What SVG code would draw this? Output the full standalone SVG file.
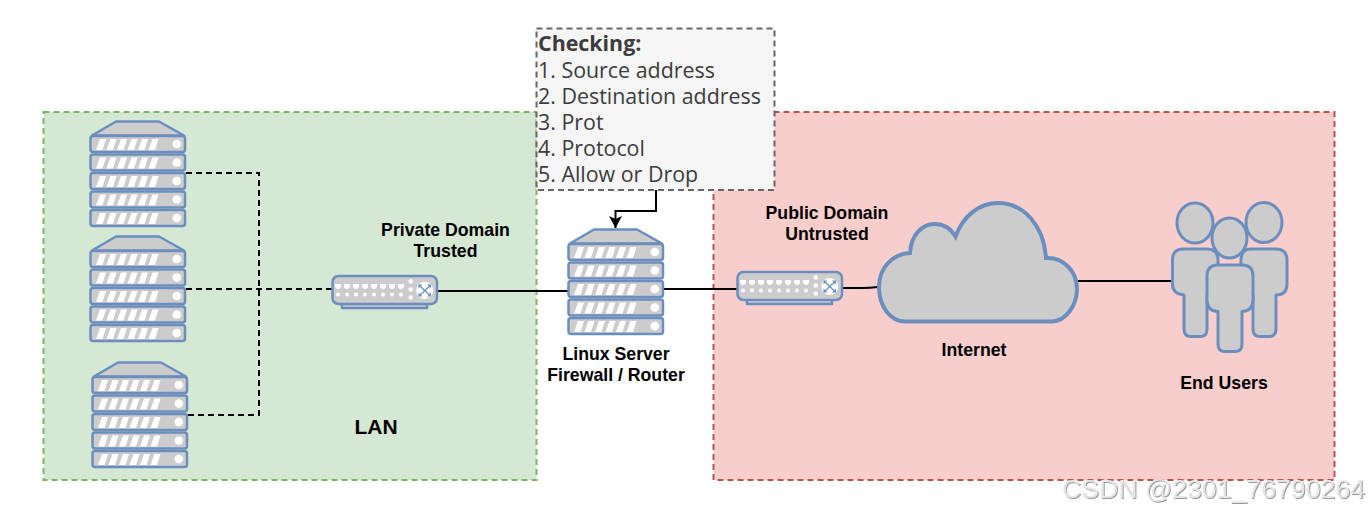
<svg xmlns="http://www.w3.org/2000/svg" xmlns:xlink="http://www.w3.org/1999/xlink" width="1370" height="512" viewBox="0 0 1370 512">
<style>
.s{fill:#cccccc;stroke:#6c8ebf;stroke-width:2.500;stroke-linejoin:round}
.t{stroke-width:3}
.w{fill:#ffffff;stroke:none}
.lb{font-family:"Liberation Sans",Arial,sans-serif;font-weight:700;font-size:17.700px;fill:#000;text-anchor:middle}
.ck{font-family:"Open Sans","Noto Sans",sans-serif;font-size:21.400px;fill:#3c3c3c}
.c{fill:none;stroke:#000;stroke-width:2}
.d{stroke-dasharray:6 4}
</style>
<defs>
<g id="row">
<rect class="s" x="90.500" y="0" width="94.500" height="16" rx="2.500"/>
<path class="w" d="M96 14L100 3H106L102.500 14ZM106.500 14L110.500 3H116.500L113 14ZM117 14L121 3H127L123.500 14ZM127.500 14L131.500 3H137.500L134 14ZM138 14L142 3H148L144.500 14ZM148.500 14L152.500 3H158.500L155 14Z"/>
<circle class="w" cx="176.800" cy="8" r="4.300"/>
</g>
<g id="server">
<path class="s" d="M116 121.500H159L184 135.500H92Z"/>
<use href="#row" y="136"/><use href="#row" y="154.500"/><use href="#row" y="173"/><use href="#row" y="191.500"/><use href="#row" y="210"/>
</g>
<g id="switch">
<rect class="s" x="342" y="300" width="85" height="8"/>
<rect class="s" x="332.500" y="276" width="104.500" height="28" rx="6"/>
<g class="w">
<path d="M335 284h6v3l-2 2h-2l-2-2zM344 284h6v3l-2 2h-2l-2-2zM353 284h6v3l-2 2h-2l-2-2zM362 284h6v3l-2 2h-2l-2-2zM371 284h6v3l-2 2h-2l-2-2zM380 284h6v3l-2 2h-2l-2-2zM389 284h6v3l-2 2h-2l-2-2zM398 284h6v3l-2 2h-2l-2-2z"/>
<circle cx="338" cy="294.500" r="2"/><circle cx="347" cy="294.500" r="2"/><circle cx="356" cy="294.500" r="2"/><circle cx="365" cy="294.500" r="2"/><circle cx="374" cy="294.500" r="2"/><circle cx="383" cy="294.500" r="2"/><circle cx="392" cy="294.500" r="2"/><circle cx="401" cy="294.500" r="2"/>
<circle cx="410.700" cy="281.500" r="2.200"/><circle cx="410.700" cy="289.500" r="2.200"/><circle cx="410.700" cy="297.500" r="2.200"/>
<circle cx="424.700" cy="290.500" r="8.500"/>
</g>
<path d="M420 286L429.500 295M429.500 286L420 295" fill="none" stroke="#6c8ebf" stroke-width="1.300"/>
<path d="M418.500 284.500h4l-4 4zM431 284.500h-4l4 4zM418.500 296.500h4l-4-4zM431 296.500h-4l4-4z" fill="#6c8ebf"/>
</g>
<marker id="arr" markerWidth="14" markerHeight="14" refX="12" refY="6.500" orient="auto" markerUnits="userSpaceOnUse"><path d="M0 0L12 6.500L0 13L3 6.500Z" fill="#000"/></marker>
<filter id="sh" x="-5%" y="-20%" width="110%" height="150%"><feDropShadow dx="1" dy="1" stdDeviation="0.600" flood-color="#999999"/></filter>
</defs>

<g id="lan"><rect x="43.500" y="112" width="493" height="368" fill="#d5e8d4" stroke="#82b366" stroke-width="2" stroke-dasharray="6 4"/></g>
<g id="wan"><rect x="713.500" y="112" width="621" height="368" fill="#f8cecc" stroke="#b85450" stroke-width="2" stroke-dasharray="6 4"/></g>

<g id="connectors">
<path class="c d" d="M186 173H259V415H188"/>
<path class="c d" d="M186 289H332"/>
<path class="c" d="M437 291H568"/>
<path class="c" d="M664 289H737"/>
<path class="c" d="M843 288H862Q870 288 878 287"/>
<path class="c" d="M1078 281H1172"/>
<path class="c" d="M656 190V211H615.500V228" marker-end="url(#arr)"/>
</g>

<g id="checking">
<rect x="536.500" y="28.500" width="238" height="161.500" fill="#f5f5f5" stroke="#666666" stroke-width="2" stroke-dasharray="6 4"/>
<text class="ck"><tspan x="538" y="51" font-weight="700">Checking:</tspan><tspan x="538" y="78">1. Source address</tspan><tspan x="538" y="104">2. Destination address</tspan><tspan x="538" y="130">3. Prot</tspan><tspan x="538" y="156">4. Protocol</tspan><tspan x="538" y="182">5. Allow or Drop</tspan></text>
</g>

<g id="server1"><use href="#server"/></g>
<g id="server2"><use href="#server" y="115"/></g>
<g id="server3"><use href="#server" x="2" y="241"/></g>
<g id="firewall"><use href="#server" x="478" y="108"/>
<text class="lb" x="616" y="360">Linux Server</text>
<text class="lb" x="616" y="381">Firewall / Router</text></g>
<g id="switch1"><use href="#switch"/></g>
<g id="switch2"><use href="#switch" x="405" y="-4"/></g>

<g id="cloud"><path d="M905 321.500H1051.500C1066 321.500 1077 305 1077 289C1077 272 1064 257 1046 258C1044 226 1024 203 998 203C979 203 963 216 955.500 236.500C951 229 944 224 935 224C921 224 911 236 910 253C892 254 879 268 879 287C879 306 890 321.500 905 321.500Z" fill="#cccccc" stroke="#6c8ebf" stroke-width="4"/>
<text class="lb" x="974" y="356">Internet</text></g>

<g id="users">
<path class="s t" d="M1183 249H1207Q1218 249 1218 260V284Q1218 295 1207 295V329Q1207 336.500 1200 336.500H1191Q1184 336.500 1184 329V295Q1172.500 294 1172.500 284V260Q1172.500 249 1183 249Z"/>
<path class="s t" d="M1251 249H1276Q1287 249 1287 260V284Q1287 295 1276 295V329Q1276 336.500 1269 336.500H1260Q1253 336.500 1253 329V295Q1241 294 1241 284V260Q1241 249 1251 249Z"/>
<ellipse class="s t" cx="1195" cy="223" rx="18" ry="20"/>
<ellipse class="s t" cx="1264" cy="222.500" rx="18" ry="20"/>
<ellipse class="s t" cx="1229.500" cy="238" rx="17.500" ry="20"/>
<path class="s t" d="M1218 265H1242Q1253 265 1253 276V300Q1253 311 1242 311.500V344Q1242 351.500 1235 351.500H1225Q1218 351.500 1218 344V311.500Q1207 311 1207 300V276Q1207 265 1218 265Z"/>
<text class="lb" x="1224" y="389">End Users</text>
</g>

<g id="labels">
<text class="lb" x="445.500" y="236">Private Domain</text>
<text class="lb" x="445.500" y="257">Trusted</text>
<text class="lb" x="827" y="219">Public Domain</text>
<text class="lb" x="827" y="240">Untrusted</text>
<text class="lb" x="376" y="434" style="font-size:21px">LAN</text>
<text x="1062" y="498" font-family="Liberation Sans,Arial,sans-serif" font-size="26.700" fill="#e6e6e6" filter="url(#sh)">CSDN @2301_76790264</text>
</g>
</svg>
